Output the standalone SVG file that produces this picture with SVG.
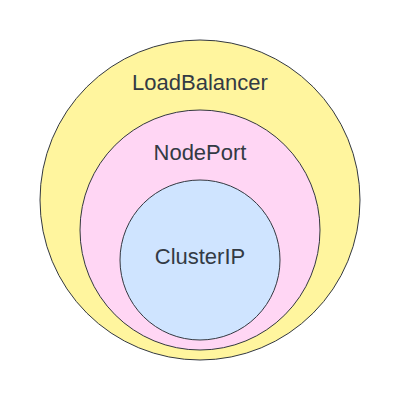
<svg xmlns="http://www.w3.org/2000/svg" width="400" height="400" viewBox="0 0 400 400">
<style>
.c{stroke:#333840;stroke-width:1}
.t{font-family:"Liberation Sans",Arial,sans-serif;font-size:22px;fill:#333a44;text-anchor:middle}
</style>
<rect width="400" height="400" fill="#ffffff"/>
<g id="loadbalancer">
<circle class="c" cx="200" cy="200" r="160" fill="#fff59e"/>
<text class="t" x="200" y="89.5">LoadBalancer</text>
</g>
<g id="nodeport">
<circle class="c" cx="200" cy="230" r="120" fill="#ffd6f4"/>
<text class="t" x="200" y="159.5">NodePort</text>
</g>
<g id="clusterip">
<circle class="c" cx="200" cy="260" r="80" fill="#cfe4ff"/>
<text class="t" x="200" y="263.5">ClusterIP</text>
</g>
<g id="connectors"/>
</svg>
